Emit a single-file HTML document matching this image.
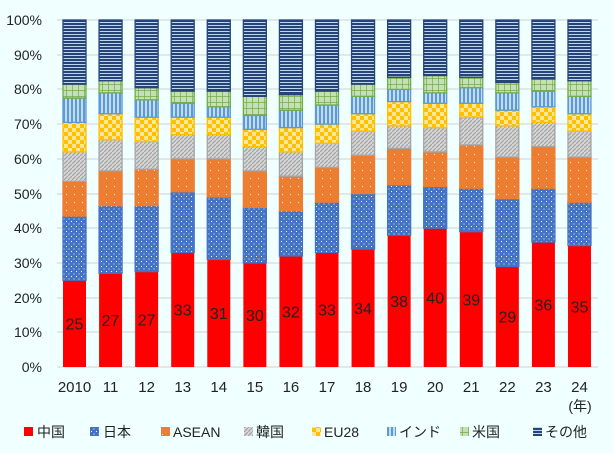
<!DOCTYPE html>
<html><head><meta charset="utf-8"><style>
html,body{margin:0;padding:0;background:#f0ffff;}
svg{display:block;font-family:"Liberation Sans","Noto Sans CJK JP",sans-serif;}
</style></head><body>
<svg width="613" height="453" viewBox="0 0 613 453" xmlns="http://www.w3.org/2000/svg">
<defs>
<pattern id="jp" width="5" height="5" patternUnits="userSpaceOnUse"><rect width="5" height="5" fill="#4472c4"/><rect x="1" y="1" width="1" height="1" fill="#fff"/><rect x="3.5" y="3.5" width="1" height="1" fill="#cfe"/></pattern>
<pattern id="as" width="8" height="8" patternUnits="userSpaceOnUse"><rect width="8" height="8" fill="#ed7d31"/><rect x="2" y="2" width="1" height="1" fill="#fde"/></pattern>
<pattern id="kr" width="4" height="4" patternUnits="userSpaceOnUse"><rect width="4" height="4" fill="#d6d6d6"/><path d="M0 4L4 0" stroke="#a5a5a5" stroke-width="1.3"/></pattern>
<pattern id="eu" width="8" height="8" patternUnits="userSpaceOnUse"><rect width="8" height="8" fill="#ffc000"/><rect width="4" height="4" fill="#ffe699"/><rect x="4" y="4" width="4" height="4" fill="#ffe699"/></pattern>
<pattern id="in" width="4" height="4" patternUnits="userSpaceOnUse"><rect width="4" height="4" fill="#5b9bd5"/><rect x="1" width="2" height="4" fill="#c5dcf0"/></pattern>
<pattern id="us" width="6" height="6" patternUnits="userSpaceOnUse"><rect width="6" height="6" fill="#c5e0b4"/><path d="M0 0H6M0 0V6" stroke="#70ad47" stroke-width="1.4"/></pattern>
<pattern id="ot" width="4" height="3" patternUnits="userSpaceOnUse"><rect width="4" height="3" fill="#264478"/><rect y="1" width="4" height="1" fill="#bdd7ee"/></pattern>
</defs>
<g stroke="#d0d0d0" stroke-width="1">
<line x1="57" x2="598" y1="20" y2="20"/><line x1="57" x2="598" y1="55" y2="55"/><line x1="57" x2="598" y1="89" y2="89"/><line x1="57" x2="598" y1="124" y2="124"/><line x1="57" x2="598" y1="159" y2="159"/><line x1="57" x2="598" y1="194" y2="194"/><line x1="57" x2="598" y1="228" y2="228"/><line x1="57" x2="598" y1="263" y2="263"/><line x1="57" x2="598" y1="298" y2="298"/><line x1="57" x2="598" y1="332" y2="332"/><line x1="57" x2="598" y1="367" y2="367"/>
</g>
<g font-size="14" fill="#222" text-anchor="end">
<text x="42" y="25">100%</text><text x="42" y="60">90%</text><text x="42" y="94">80%</text><text x="42" y="129">70%</text><text x="42" y="164">60%</text><text x="42" y="199">50%</text><text x="42" y="233">40%</text><text x="42" y="268">30%</text><text x="42" y="303">20%</text><text x="42" y="337">10%</text><text x="42" y="372">0%</text>
</g>
<g id="bars"></g>
<g font-size="15" fill="#222" text-anchor="middle" id="years"></g>
<text x="580" y="411" font-size="14" fill="#222" text-anchor="middle">(年)</text>
<g font-size="14" fill="#222">
<rect x="24" y="427" width="9" height="9" fill="#f00"/><text x="37" y="437">中国</text>
<rect x="90" y="427" width="9" height="9" fill="url(#jp)"/><text x="103" y="437">日本</text>
<rect x="161" y="427" width="9" height="9" fill="url(#as)"/><text x="173" y="437">ASEAN</text>
<rect x="244" y="427" width="9" height="9" fill="url(#kr)"/><text x="256" y="437">韓国</text>
<rect x="312" y="427" width="9" height="9" fill="url(#eu)"/><text x="324" y="437">EU28</text>
<rect x="387" y="427" width="9" height="9" fill="url(#in)"/><text x="399" y="437">インド</text>
<rect x="460" y="427" width="9" height="9" fill="url(#us)"/><text x="472" y="437">米国</text>
<rect x="533" y="427" width="9" height="9" fill="url(#ot)"/><text x="545" y="437">その他</text>
</g>
<script>
var d=[[25,43.5,53.5,62,70.5,77.5,81.5],[27,46.5,56.5,65.5,73,79,82.5],[27.5,46.5,57,65,72,77,80.5],[33,50.5,60,67,72,76,79.5],[31,49,60,67,72,75,79.5],[30,46,56.5,63.5,68.5,72.5,78],[32,45,55,62,69,74,78.5],[33,47.5,57.5,64.5,70,75.5,79.5],[34,50,61,68,73,78,81.5],[38,52.5,63,69.5,76.5,80,83.5],[40,52,62,69,76,79,84],[39,51.5,64,72,76,80.5,83.5],[29,48.5,60.5,69.5,74,79,82],[36,51.5,63.5,70.5,75,79.5,83],[35,47.5,60.5,68,73,78,82.5]];
var yl=["2010","11","12","13","14","15","16","17","18","19","20","21","22","23","24"];
var f=["#f00","url(#jp)","url(#as)","url(#kr)","url(#eu)","url(#in)","url(#us)","url(#ot)"];
var st=["none","#4472c4","#ed7d31","#a5a5a5","#ffc000","#5b9bd5","#70ad47","#264478"];
var ns="http://www.w3.org/2000/svg",g=document.getElementById("bars"),yg=document.getElementById("years");
function Y(p){return 367-3.47*p;}
d.forEach(function(r,i){var x=63+36.07*i,c=[0].concat(r).concat([100]);
for(var k=0;k<8;k++){var e=document.createElementNS(ns,"rect");e.setAttribute("x",x);e.setAttribute("width",23);e.setAttribute("y",Y(c[k+1]));e.setAttribute("height",Y(c[k])-Y(c[k+1]));e.setAttribute("fill",f[k]);if(k>0){e.setAttribute("stroke",st[k]);e.setAttribute("stroke-width","1.3");}g.appendChild(e);}
var t=document.createElementNS(ns,"text");t.setAttribute("x",x+11.5);t.setAttribute("y",Y(r[0]/2)+6);t.setAttribute("text-anchor","middle");t.setAttribute("font-size","16");t.setAttribute("fill","#222");t.textContent=Math.round(r[0]==27.5?27:r[0]);g.appendChild(t);
var u=document.createElementNS(ns,"text");u.setAttribute("x",x+11.5);u.setAttribute("y",392);u.textContent=yl[i];yg.appendChild(u);});
</script>
</svg>
</body></html>
